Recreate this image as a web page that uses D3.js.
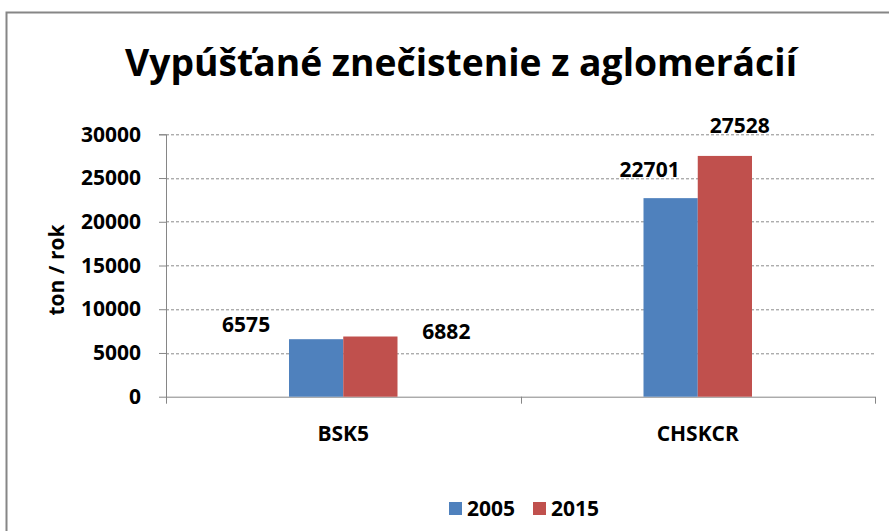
<!DOCTYPE html>
<html>
<head>
<meta charset="utf-8">
<script src="https://cdn.jsdelivr.net/npm/d3@7"></script>
<style>
  body { margin: 0; background: #fff; }
  text { font-family: "Open Sans", "DejaVu Sans", sans-serif; font-weight: bold; fill: #000; }
</style>
</head>
<body>
<div id="chart"></div>
<script>

var width = 889;
var height = 531;

// data
var categories = ["BSK5", "CHSKCR"];
var years = ["2005", "2015"];
var values2005 = [6575, 22701];
var values2015 = [6882, 27528];
var yTicks = [0, 5000, 10000, 15000, 20000, 25000, 30000];
var colors = ["#4F81BD", "#C0504D"];

// label nudges (the labels were moved by hand in the original)
var labelNudge = [
  [[-70, -7], [76, 2]],
  [[-21, -21], [15, -23]]
];

var fs = 21;
var margin = {left: 166, top: 134.3};
var plotW = 875 - 166;
var plotH = 396.7 - 134.3;

var svg = d3.select("#chart")
    .append("svg")
        .attr("width", width)
        .attr("height", height)
        ;

// outer frame (cut off at right and bottom)
svg.append("rect")
    .attr("x", 6.5)
    .attr("y", 12.5)
    .attr("width", 900)
    .attr("height", 560)
    .attr("fill", "none")
    .attr("stroke", "#868686")
    .attr("stroke-width", 2)
    ;

svg.append("text")
    .attr("x", 461)
    .attr("y", 76)
    .attr("text-anchor", "middle")
    .attr("font-size", 38)
    .attr("textLength", 672)
    .attr("lengthAdjust", "spacingAndGlyphs")
    .text("Vypúšťané znečistenie z aglomerácií")
    ;

var g = svg.append("g")
    .attr("transform", "translate(" + margin.left + "," + margin.top + ")");

var x0 = d3.scaleBand()
    .domain(categories)
    .range([0, plotW])
    ;

var x1 = d3.scaleBand()
    .domain(years)
    .range([0, 108.5])
    ;

var y = d3.scaleLinear()
    .domain([0, 30000])
    .range([plotH, 0])
    ;

// gridlines
g.selectAll(".grid")
    .data(yTicks.filter(function(d) { return d > 0; }))
    .enter().append("line")
    .attr("x1", 0)
    .attr("x2", plotW)
    .attr("y1", function(d) { return Math.round(y(d)) + 0.5; })
    .attr("y2", function(d) { return Math.round(y(d)) + 0.5; })
    .attr("stroke", "#8a8a8a")
    .attr("stroke-dasharray", "3,2")
    .attr("stroke-width", 1)
    ;

// y axis
var yAxis = d3.axisLeft(y)
    .tickValues(yTicks)
    .tickSize(7)
    .tickPadding(18)
    .tickFormat(d3.format("d"))
    ;

var ya = g.append("g").call(yAxis);
ya.select(".domain").attr("stroke", "#868686").attr("d", "M-7,0.5H0.5V" + (plotH + 0.5));
ya.selectAll(".tick line").attr("stroke", "#868686");
ya.selectAll(".tick text")
    .attr("font-size", fs)
    .attr("font-family", "Open Sans")
    .attr("font-weight", "bold")
    .attr("fill", "#000")
    ;

// x axis
g.append("line")
    .attr("x1", 0).attr("x2", plotW)
    .attr("y1", plotH + 0.5).attr("y2", plotH + 0.5)
    .attr("stroke", "#868686");

g.selectAll(".xtick")
    .data(categories.map(function(c) { return x0(c); }).concat([plotW]))
    .enter().append("line")
    .attr("x1", function(d) { return Math.round(d) + 0.5; })
    .attr("x2", function(d) { return Math.round(d) + 0.5; })
    .attr("y1", plotH)
    .attr("y2", plotH + 7)
    .attr("stroke", "#868686")
    ;

g.selectAll(".xlabel")
    .data(categories)
    .enter().append("text")
    .attr("x", function(d) { return x0(d) + x0.bandwidth() / 2; })
    .attr("y", plotH + 44)
    .attr("text-anchor", "middle")
    .attr("font-size", fs)
    .text(function(d) { return d; })
    ;

// bars
var series = [values2005, values2015];
var groups = g.selectAll(".cat")
    .data(categories)
    .enter().append("g")
    .attr("transform", function(d) {
        return "translate(" + (x0(d) + (x0.bandwidth() - 108.5) / 2) + ",0)";
    })
    ;

groups.each(function(c, ci) {
    var gg = d3.select(this);
    years.forEach(function(yr, si) {
        var v = series[si][ci];
        gg.append("rect")
            .attr("x", x1(yr))
            .attr("y", y(v))
            .attr("width", x1.bandwidth())
            .attr("height", plotH - y(v))
            .attr("fill", colors[si])
            ;
        gg.append("text")
            .attr("x", x1(yr) + x1.bandwidth() / 2 + labelNudge[ci][si][0])
            .attr("y", y(v) + labelNudge[ci][si][1])
            .attr("text-anchor", "middle")
            .attr("font-size", fs)
            .text(v)
            ;
    });
});

// y axis title
svg.append("text")
    .attr("transform", "translate(64,270) rotate(-90)")
    .attr("text-anchor", "middle")
    .attr("font-size", fs)
    .text("ton / rok")
    ;

// legend
var legend = svg.append("g");
var legX = [449, 533];
years.forEach(function(yr, i) {
    legend.append("rect")
        .attr("x", legX[i])
        .attr("y", 502)
        .attr("width", 13)
        .attr("height", 13)
        .attr("fill", colors[i]);
    legend.append("text")
        .attr("x", legX[i] + 18)
        .attr("y", 516)
        .attr("font-size", fs)
        .text(yr);
});

</script>
</body>
</html>
